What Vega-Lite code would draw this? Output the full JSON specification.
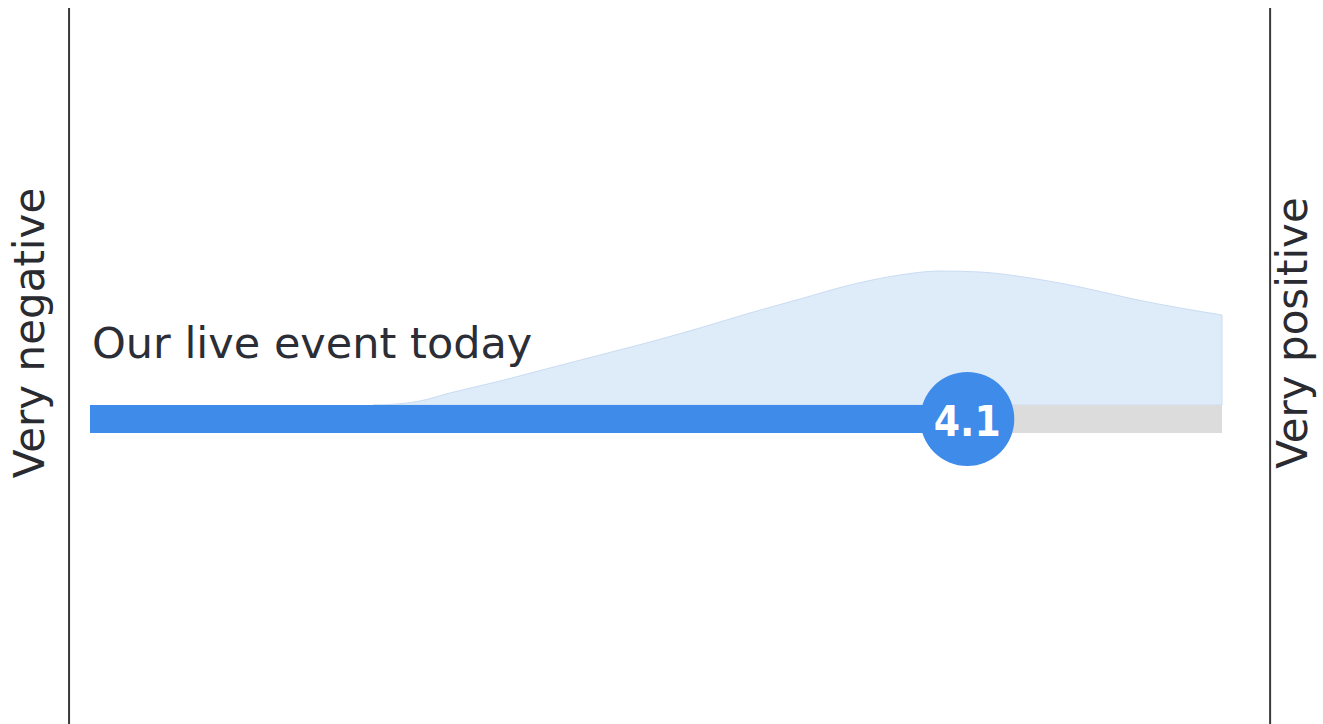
{
  "$schema": "https://vega.github.io/schema/vega-lite/v6.json",
  "width": 1323,
  "height": 724,
  "autosize": {"type": "none"},
  "padding": 0,
  "background": "#ffffff",
  "config": {"view": {"stroke": null}},
  "datasets": {
    "density": [
      {"score": 2.0, "density": 0},
      {"score": 2.06, "density": 0.5},
      {"score": 2.166, "density": 4},
      {"score": 2.272, "density": 12},
      {"score": 2.449, "density": 24},
      {"score": 2.625, "density": 37},
      {"score": 2.802, "density": 50},
      {"score": 2.979, "density": 63},
      {"score": 3.155, "density": 77},
      {"score": 3.332, "density": 92},
      {"score": 3.509, "density": 106},
      {"score": 3.686, "density": 120},
      {"score": 3.862, "density": 130},
      {"score": 4.004, "density": 134},
      {"score": 4.145, "density": 133},
      {"score": 4.322, "density": 127},
      {"score": 4.498, "density": 118},
      {"score": 4.686, "density": 106},
      {"score": 4.852, "density": 97},
      {"score": 5.0, "density": 90}
    ],
    "bars": [
      {"from": 1, "to": 4.1, "part": "value"},
      {"from": 4.1, "to": 5, "part": "rest"}
    ],
    "edges": [
      {"pos": 0.926, "label": "Very negative", "labelPos": 0.837},
      {"pos": 5.17, "label": "Very positive", "labelPos": 5.3}
    ],
    "score": [{"score": 4.1, "label": "4.1", "title": "Our live event today", "titlePos": 1.007}]
  },
  "layer": [
    {
      "data": {"name": "edges"},
      "mark": {"type": "rule", "color": "#3a3a3a", "strokeWidth": 2},
      "encoding": {
        "x": {"field": "pos", "type": "quantitative", "scale": {"domain": [1, 5], "range": [90, 1222], "nice": false, "zero": false}, "axis": null},
        "y": {"datum": 397, "type": "quantitative", "scale": {"domain": [-319, 405], "nice": false, "zero": false}, "axis": null},
        "y2": {"datum": -319}
      }
    },
    {
      "data": {"name": "edges"},
      "mark": {"type": "text", "angle": 270, "align": "center", "baseline": "alphabetic", "font": "DejaVu Sans", "fontSize": 42, "color": "#2a2b30"},
      "encoding": {
        "x": {"field": "labelPos", "type": "quantitative"},
        "y": {"datum": 72, "type": "quantitative"},
        "text": {"field": "label"}
      }
    },
    {
      "data": {"name": "density"},
      "mark": {"type": "area", "interpolate": "monotone", "fill": "#deebf9", "stroke": "#cadcf2", "strokeWidth": 1},
      "encoding": {
        "x": {"field": "score", "type": "quantitative"},
        "y": {"field": "density", "type": "quantitative"},
        "y2": {"datum": 0}
      }
    },
    {
      "data": {"name": "bars"},
      "mark": {"type": "rect"},
      "encoding": {
        "x": {"field": "from", "type": "quantitative"},
        "x2": {"field": "to"},
        "y": {"datum": 0, "type": "quantitative"},
        "y2": {"datum": -28},
        "color": {"field": "part", "type": "nominal", "scale": {"domain": ["value", "rest"], "range": ["#3f8be9", "#dcdcdc"]}, "legend": null}
      }
    },
    {
      "data": {"name": "score"},
      "mark": {"type": "point", "shape": "circle", "filled": true, "size": 8836, "color": "#3f8be9", "opacity": 1},
      "encoding": {
        "x": {"field": "score", "type": "quantitative"},
        "y": {"datum": -14, "type": "quantitative"}
      }
    },
    {
      "data": {"name": "score"},
      "mark": {"type": "text", "align": "center", "baseline": "alphabetic", "font": "DejaVu Sans Condensed", "fontWeight": "bold", "fontSize": 42, "color": "#ffffff"},
      "encoding": {
        "x": {"field": "score", "type": "quantitative"},
        "y": {"datum": -31, "type": "quantitative"},
        "text": {"field": "label"}
      }
    },
    {
      "data": {"name": "score"},
      "mark": {"type": "text", "align": "left", "baseline": "alphabetic", "font": "DejaVu Sans", "fontSize": 43, "color": "#2b2e36"},
      "encoding": {
        "x": {"field": "titlePos", "type": "quantitative"},
        "y": {"datum": 47, "type": "quantitative"},
        "text": {"field": "title"}
      }
    }
  ]
}
